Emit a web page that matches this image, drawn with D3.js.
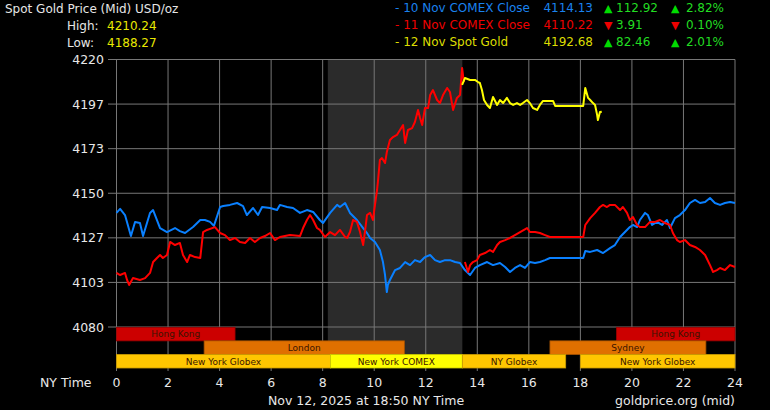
<!DOCTYPE html>
<html><head><meta charset="utf-8">
<script src="https://cdn.jsdelivr.net/npm/d3@7"></script>
<style>
html,body{margin:0;padding:0;background:#000;}
svg{display:block;}
text{font-family:"DejaVu Sans",sans-serif;}
</style></head><body>
<svg id="c" width="770" height="410"></svg>
<script>
// ---------- DATA ----------
const blueHours=[0,0.14,0.33,0.56,0.72,0.91,1.03,1.30,1.42,1.69,1.96,2.27,2.46,2.66,2.97,3.25,3.43,3.63,3.78,4.02,4.14,4.40,4.68,4.91,5.06,5.30,5.49,5.65,5.96,6.23,6.34,6.62,6.85,7.12,7.39,7.63,7.89,8.01,8.29,8.56,8.67,8.87,9.06,9.33,9.57,9.72,9.84,10.03,10.22,10.34,10.42,10.49,10.53,10.61,10.81,11.00,11.20,11.39,11.58,11.78,11.97,12.17,12.36,12.55,12.75,12.94,13.14,13.33,13.52,13.72,13.91,14.10,14.38,14.61,14.88,15.08,15.27,15.46,15.66,15.85,16.04,16.24,16.43,16.63,16.82,18.11,18.19,18.38,18.65,18.88,19.15,19.34,19.54,19.73,19.92,20.04,20.20,20.31,20.51,20.62,20.78,20.97,21.17,21.36,21.48,21.67,21.86,22.06,22.25,22.45,22.64,22.84,23.03,23.22,23.42,23.61,23.81,24.0];
const blueValues=[4139.7,4141.8,4138.6,4127.6,4135.0,4134.4,4127.6,4139.7,4141.2,4131.8,4129.7,4131.8,4130.2,4129.2,4132.3,4136.0,4136.0,4135.0,4132.9,4142.8,4143.3,4143.9,4144.9,4143.3,4138.6,4142.3,4138.6,4142.8,4142.3,4141.2,4143.9,4142.8,4142.3,4139.7,4141.2,4140.2,4136.0,4134.4,4139.7,4143.9,4142.8,4144.9,4139.7,4136.0,4131.8,4129.2,4126.6,4124.5,4120.3,4114.0,4107.2,4098.3,4102.0,4104.6,4109.8,4110.9,4114.0,4112.4,4115.0,4114.0,4116.6,4117.7,4115.0,4114.0,4115.0,4115.0,4114.0,4113.5,4109.8,4107.2,4110.9,4112.4,4114.0,4112.4,4113.5,4111.4,4108.8,4110.9,4112.4,4110.9,4114.0,4113.5,4114.0,4115.0,4116.1,4116.1,4119.8,4119.3,4120.3,4118.7,4121.3,4122.9,4127.1,4129.7,4132.3,4133.4,4132.3,4136.0,4139.7,4138.6,4133.4,4135.0,4133.4,4136.0,4131.8,4137.0,4138.6,4141.2,4144.9,4146.5,4144.9,4145.4,4147.5,4144.9,4143.9,4144.9,4145.4,4144.9];

const redDayHours=[0,0.14,0.33,0.41,0.49,0.64,0.91,1.11,1.30,1.42,1.57,1.69,1.80,1.96,2.08,2.27,2.46,2.58,2.74,2.85,3.05,3.25,3.36,3.51,3.82,4.02,4.21,4.40,4.60,4.79,4.99,5.18,5.37,5.57,5.76,5.96,6.15,6.34,6.73,7.12,7.24,7.39,7.51,7.63,7.78,7.89,8.09,8.29,8.48,8.67,8.87,8.95,9.06,9.18,9.33,9.45,9.57,9.65,9.72,9.84,9.95,10.03,10.11,10.15,10.22,10.30,10.42,10.49,10.61,10.73,10.88,11.00,11.12,11.20,11.31,11.47,11.58,11.70,11.78,11.86,11.97,12.09,12.17,12.28,12.44,12.55,12.67,12.83,12.94,13.06,13.21,13.33,13.41,13.48];
const redDayValues=[4108.3,4107.2,4108.3,4104.6,4102.0,4105.6,4104.6,4105.6,4108.3,4114.0,4116.1,4117.7,4116.1,4117.7,4124.5,4122.9,4124.0,4117.7,4114.0,4117.7,4116.6,4116.1,4129.7,4130.8,4132.3,4129.2,4128.1,4125.5,4126.6,4124.5,4124.0,4126.6,4124.5,4126.6,4127.6,4129.2,4125.5,4127.1,4128.1,4127.6,4131.8,4136.0,4138.6,4136.0,4131.8,4130.8,4127.1,4129.7,4128.1,4130.8,4127.1,4126.6,4129.7,4136.0,4135.0,4129.7,4122.9,4130.8,4138.6,4139.7,4136.0,4143.9,4151.7,4156.9,4167.4,4168.4,4165.8,4171.6,4177.9,4179.4,4180.5,4183.1,4185.7,4176.3,4183.1,4184.1,4187.3,4193.6,4189.4,4185.7,4194.6,4194.6,4201.4,4204.0,4198.8,4197.2,4201.4,4205.1,4203.0,4193.6,4199.9,4201.4,4215.6,4208.2];

const redEveHours=[13.52,13.64,13.72,13.83,13.99,14.10,14.30,14.49,14.61,14.77,14.88,15.08,15.27,15.46,15.66,15.93,16.04,16.24,16.43,16.63,16.82,18.11,18.19,18.38,18.57,18.76,18.88,19.03,19.15,19.34,19.54,19.65,19.81,19.92,20.04,20.20,20.31,20.51,20.70,20.90,21.09,21.28,21.48,21.59,21.75,21.86,22.06,22.25,22.45,22.64,22.84,23.03,23.15,23.30,23.42,23.61,23.81,24.0];
const redEveValues=[4114.0,4108.8,4112.4,4114.0,4115.0,4117.7,4118.7,4120.3,4119.3,4122.9,4124.5,4125.5,4126.6,4128.1,4129.7,4131.8,4129.7,4129.7,4129.2,4128.1,4127.1,4127.1,4133.4,4137.0,4139.7,4142.8,4143.9,4142.8,4143.9,4143.9,4141.2,4142.8,4139.7,4136.0,4137.6,4133.4,4132.3,4132.3,4135.0,4135.0,4136.0,4134.4,4133.4,4129.2,4125.5,4124.5,4125.5,4122.9,4121.9,4120.3,4117.7,4112.4,4108.8,4109.8,4110.9,4109.8,4112.4,4111.4];

const yellowHours=[13.41,13.52,13.72,13.91,14.03,14.10,14.18,14.26,14.38,14.49,14.61,14.77,14.88,15.00,15.15,15.27,15.39,15.54,15.66,15.77,15.93,16.04,16.16,16.32,16.43,16.55,16.94,17.02,18.11,18.19,18.30,18.38,18.49,18.57,18.65,18.68,18.76,18.83];
const yellowValues=[4206.7,4210.3,4209.3,4209.3,4208.2,4207.7,4204.0,4198.8,4196.2,4194.6,4200.4,4196.2,4198.8,4197.2,4199.9,4197.2,4196.2,4197.2,4196.2,4197.2,4198.8,4197.2,4194.6,4193.6,4196.2,4198.3,4198.3,4195.7,4195.7,4205.1,4199.9,4198.8,4197.2,4196.2,4191.0,4188.3,4192.5,4192.7];

const yTickLabels=["4080","4103","4127","4150","4173","4197","4220"];
const xTickLabels=["0","2","4","6","8","10","12","14","16","18","20","22","24"];

const sessionNames=["Hong Kong","Hong Kong","London","Sydney","New York Globex","New York COMEX","NY Globex","New York Globex"];
const sessionStarts=[0,19.4,3.4,16.82,0,8.3,13.42,18.0];
const sessionEnds=[4.6,24,11.17,22.87,8.3,13.42,17.43,24];
const sessionRows=[0,0,1,1,2,2,2,2];

const comexShade=[8.2,13.42];

const legendNames=["- 10 Nov COMEX Close","- 11 Nov COMEX Close","- 12 Nov Spot Gold"];
const legendPrices=["4114.13","4110.22","4192.68"];
const legendChanges=["112.92","3.91","82.46"];
const legendPercents=["2.82%","0.10%","2.01%"];
const legendUp=[true,false,true];

// ---------- STYLE ----------
const lineColors=["#0a80ff","#ff0000","#ffff00"];
const legendColors=["#1a82ee","#ee0000","#dddd00"];
const sessionFill={"Hong Kong":"#cc0000","London":"#e07000","Sydney":"#e07000","New York Globex":"#ffc600","NY Globex":"#ffc600","New York COMEX":"#ffff00"};
const sessionStroke={"Hong Kong":"#990000","London":"#a85400","Sydney":"#a85400","New York Globex":"#c89a00","NY Globex":"#c89a00","New York COMEX":"#c8c800"};

const svg=d3.select("#c");
svg.append("rect").attr("width",770).attr("height",410).attr("fill","#000");

const x=d3.scaleLinear().domain([0,24]).range([116.5,735]);
const y=d3.scaleLinear().domain([4080,4220]).range([327,59.5]);
const rowScale=d3.scaleBand().domain([0,1,2]).range([327.3,368]);

// COMEX shading
svg.append("rect").attr("x",x(comexShade[0])).attr("y",59.5)
  .attr("width",x(comexShade[1])-x(comexShade[0])).attr("height",368-59.5)
  .attr("fill","#2b2b2b");

// grid
const yTickVals=d3.range(7).map(i=>4080+i*140/6);
const gridColor="#777";
svg.append("g").selectAll("line").data(yTickVals).join("line")
  .attr("x1",108).attr("x2",735).attr("y1",d=>y(d)).attr("y2",d=>y(d))
  .attr("stroke",gridColor).attr("stroke-width",1);
const xTickVals=d3.range(0,25,2);
svg.append("g").selectAll("line").data(xTickVals).join("line")
  .attr("x1",d=>x(d)).attr("x2",d=>x(d)).attr("y1",59.5).attr("y2",371)
  .attr("stroke",gridColor).attr("stroke-width",1);

// y labels
svg.append("g").selectAll("text").data(yTickVals).join("text")
  .attr("x",104).attr("y",d=>y(d)+4.5).attr("text-anchor","end")
  .attr("fill","#e8e8e8").attr("font-size",12.5).text((d,i)=>yTickLabels[i]);
// x labels
svg.append("g").selectAll("text").data(xTickVals).join("text")
  .attr("x",d=>x(d)).attr("y",387).attr("text-anchor","middle")
  .attr("fill","#e8e8e8").attr("font-size",12.5).text((d,i)=>xTickLabels[i]);

// sessions
const sessions=sessionNames.map((n,i)=>({n,s:sessionStarts[i],e:sessionEnds[i],r:sessionRows[i]}));
const sg=svg.append("g");
sg.selectAll("rect").data(sessions).join("rect")
  .attr("x",d=>x(d.s)).attr("y",d=>rowScale(d.r))
  .attr("width",d=>x(d.e)-x(d.s)).attr("height",rowScale.bandwidth())
  .attr("fill",d=>sessionFill[d.n]).attr("stroke",d=>sessionStroke[d.n]).attr("stroke-width",0.8);
sg.selectAll("text").data(sessions).join("text")
  .attr("x",d=>(x(d.s)+x(d.e))/2).attr("y",d=>rowScale(d.r)+rowScale.bandwidth()/2+3.3)
  .attr("text-anchor","middle").attr("font-size",9).attr("fill","#3a1400").text(d=>d.n);

// lines
const line=d3.line().x(d=>x(d[0])).y(d=>y(d[1]));
function drawLine(hs,vs,color){
  svg.append("path").datum(hs.map((h,i)=>[h,vs[i]]))
    .attr("d",line).attr("fill","none").attr("stroke",color)
    .attr("stroke-width",2).attr("stroke-linejoin","round");
}
drawLine(blueHours,blueValues,lineColors[0]);
drawLine(redDayHours,redDayValues,lineColors[1]);
drawLine(redEveHours,redEveValues,lineColors[1]);
drawLine(yellowHours,yellowValues,lineColors[2]);

// header
svg.append("text").attr("x",5).attr("y",12.5).attr("fill","#e6e6e6").attr("font-size",12).text("Spot Gold Price (Mid) USD/oz");
svg.append("text").attr("x",67).attr("y",29.5).attr("fill","#e6e6e6").attr("font-size",12).text("High:");
svg.append("text").attr("x",107).attr("y",29.5).attr("fill","#e8e800").attr("font-size",12).text("4210.24");
svg.append("text").attr("x",67).attr("y",46.5).attr("fill","#e6e6e6").attr("font-size",12).text("Low:");
svg.append("text").attr("x",107).attr("y",46.5).attr("fill","#e8e800").attr("font-size",12).text("4188.27");

// legend
const lg=svg.append("g");
legendNames.forEach((n,i)=>{
  const by=11.5+i*17;
  lg.append("text").attr("x",395).attr("y",by).attr("fill",legendColors[i]).attr("font-size",12).text(n);
  lg.append("text").attr("x",593).attr("y",by).attr("text-anchor","end").attr("fill",legendColors[i]).attr("font-size",12).text(legendPrices[i]);
  const ac=legendUp[i]?"#00dd00":"#ee0000";
  lg.append("text").attr("x",604).attr("y",by).attr("fill",ac).attr("font-size",11).text(legendUp[i]?"▲":"▼");
  lg.append("text").attr("x",616).attr("y",by).attr("fill","#22dd22").attr("font-size",12).text(legendChanges[i]);
  lg.append("text").attr("x",671).attr("y",by).attr("fill",ac).attr("font-size",11).text(legendUp[i]?"▲":"▼");
  lg.append("text").attr("x",724).attr("y",by).attr("text-anchor","end").attr("fill","#22dd22").attr("font-size",12).text(legendPercents[i]);
});

// footer
svg.append("text").attr("x",40).attr("y",387).attr("fill","#e8e8e8").attr("font-size",12.5).text("NY Time");
svg.append("text").attr("x",268).attr("y",404.5).attr("fill","#e8e8e8").attr("font-size",12.5).text("Nov 12, 2025 at 18:50 NY Time");
svg.append("text").attr("x",735).attr("y",404.5).attr("text-anchor","end").attr("fill","#e8e8e8").attr("font-size",12.5).text("goldprice.org (mid)");
</script>
</body></html>
